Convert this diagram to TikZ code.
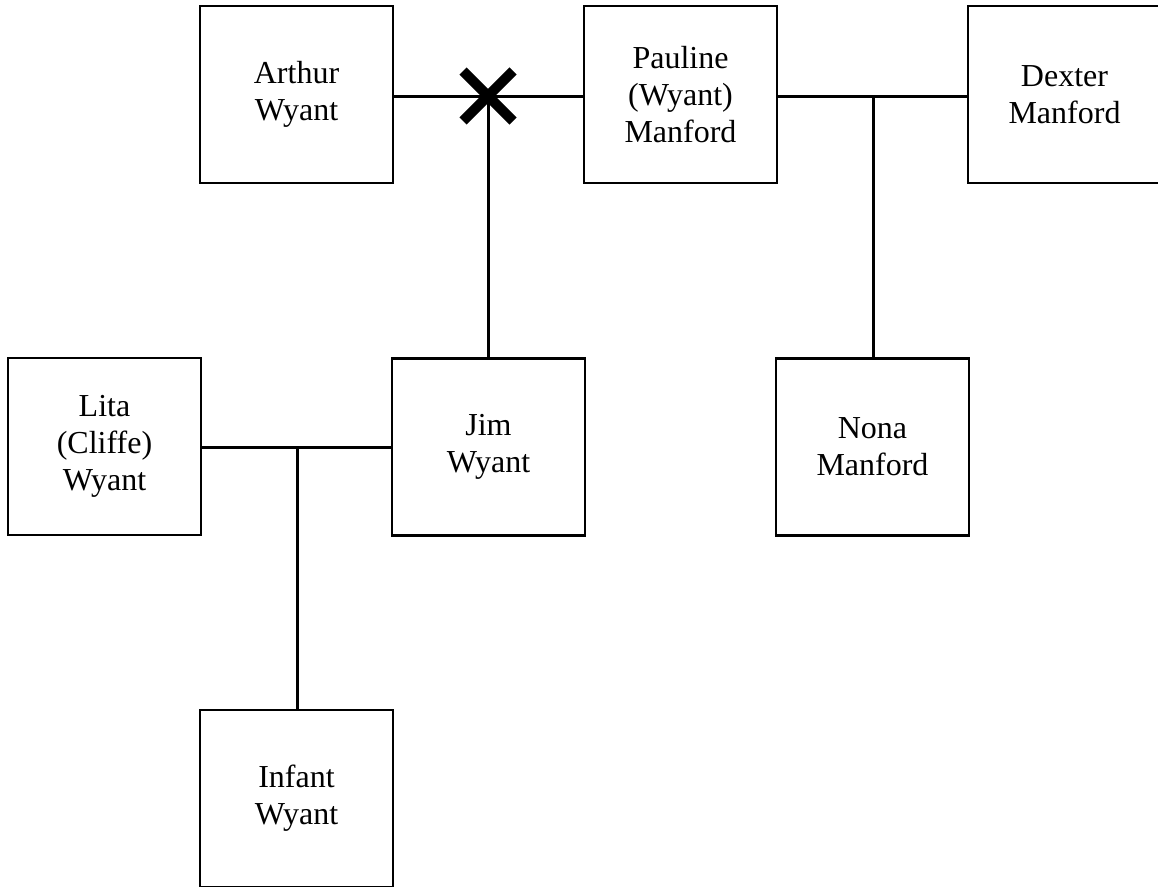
\documentclass[tikz,border=0pt]{standalone}
\usepackage{fontspec}
\setmainfont{Liberation Serif}
\usetikzlibrary{calc}
\begin{document}
\begin{tikzpicture}[x=1pt,y=-1pt,
  person/.style={draw,line width=2.4pt,minimum width=193pt,minimum height=177pt,
    align=center,inner sep=0pt,font=\fontsize{32}{37}\selectfont},
  link/.style={line width=3pt},
  divorce/.style={line width=10pt}]
\clip (0,0) rectangle (1158,886);
\fill[white] (0,0) rectangle (1158,886);
\node[person] (arthur) at (296.5,94.5) {Arthur\\Wyant};
\node[person] (pauline) at (680.5,94.5) {Pauline\\(Wyant)\\Manford};
\node[person] (dexter) at (1064.5,94.5) {Dexter\\Manford};
\node[person] (lita) at (104.5,446.5) {Lita\\(Cliffe)\\Wyant};
\node[person] (jim) at (488.5,447) {Jim\\Wyant};
\node[person] (nona) at (872.5,447) {Nona\\Manford};
\node[person] (infant) at (296.5,798.5) {Infant\\Wyant};
\coordinate (m1) at (488,96);
\coordinate (m2) at (873,96);
\coordinate (m3) at (297,447);
\draw[link] (arthur.east |- m1) -- (pauline.west |- m1);
\draw[link] (m1) -- (m1 |- jim.north);
\draw[link] (pauline.east |- m2) -- (dexter.west |- m2);
\draw[link] (m2) -- (m2 |- nona.north);
\draw[link] (lita.east |- m3) -- (jim.west |- m3);
\draw[link] (m3) -- (m3 |- infant.north);
\draw[divorce] ($(m1)+(-25,-25)$) -- ($(m1)+(25,25)$);
\draw[divorce] ($(m1)+(-25,25)$) -- ($(m1)+(25,-25)$);
\end{tikzpicture}
\end{document}
